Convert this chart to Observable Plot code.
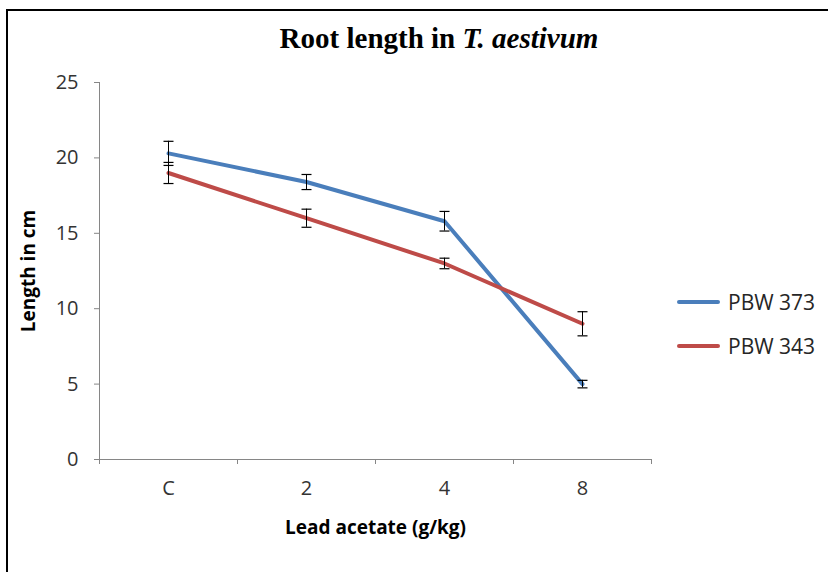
<!DOCTYPE html>
<html>
<head>
<meta charset="utf-8">
<script src="https://cdn.jsdelivr.net/npm/d3@7"></script>
<script src="https://cdn.jsdelivr.net/npm/@observablehq/plot@0.6"></script>
<style>
  html, body { margin: 0; padding: 0; background: #fff; overflow: hidden; }
  #wrap { position: relative; width: 828px; height: 572px; overflow: hidden; }
  #frame { position: absolute; left: 6px; top: 9px; width: 830px; height: 600px; border: 2px solid #000; box-sizing: border-box; }
  #chart { position: absolute; left: 0; top: 0; }
  #title { position: absolute; left: 0; top: 24px; width: 878px; text-align: center; line-height: 1;
           font-family: "Liberation Serif", "Times New Roman", serif; font-weight: bold; font-size: 29px; color: #000; }
  .leg { position: absolute; left: 677px; font-family: "Open Sans", sans-serif; font-size: 21px; color: #262626; display: flex; align-items: center; }
  .leg .sw { width: 43px; height: 4px; border-radius: 2px; margin-right: 8px; }
</style>
</head>
<body>
<div id="wrap">
  <div id="frame"></div>
  <div id="chart"></div>
  <div id="title">Root length in <i>T. aestivum</i></div>
  <div id="legend"></div>
</div>
<script>
const categories = ["C", "2", "4", "8"];
const seriesNames = ["PBW 373", "PBW 343"];
const pbw373 = [20.3, 18.4, 15.8, 5.0];
const pbw373Err = [0.8, 0.5, 0.65, 0.25];
const pbw343 = [19.0, 16.0, 13.0, 9.0];
const pbw343Err = [0.7, 0.6, 0.35, 0.8];
const yTicks = [0, 5, 10, 15, 20, 25];
const colors = ["#4A7EBB", "#BE4B48"];

const rows = [];
[[pbw373, pbw373Err], [pbw343, pbw343Err]].forEach(([vals, errs], s) => {
  vals.forEach((v, i) => rows.push({series: seriesNames[s], pos: i + 0.5, cat: categories[i], v, lo: v - errs[i], hi: v + errs[i]}));
});

const hline = {draw(ctx, size) { const r = Math.sqrt(size / Math.PI); ctx.moveTo(-r, 0); ctx.lineTo(r, 0); }};

const chart = Plot.plot({
  width: 828,
  height: 572,
  marginLeft: 99,
  marginRight: 177,
  marginTop: 82,
  marginBottom: 113,
  style: {fontFamily: "Open Sans, sans-serif", fontSize: "20px", color: "#333", background: "transparent"},
  x: {domain: [0, categories.length]},
  y: {domain: [0, 25]},
  color: {domain: seriesNames, range: colors},
  marks: [
    Plot.axisY({ticks: yTicks, tickSize: 5, tickPadding: 16, stroke: "#868686", fill: "#333", fontSize: 20, label: "Length in cm", labelAnchor: "center", labelArrow: "none", labelOffset: 78}),
    Plot.ruleX([0], {stroke: "#868686", y1: 0, y2: 25}),
    Plot.axisX({ticks: d3.range(categories.length + 1), tickSize: 5, tickFormat: () => "", stroke: "#868686", label: null}),
    Plot.axisX({ticks: categories.map((c, i) => i + 0.5), tickSize: 0, tickPadding: 21, fill: "#333", fontSize: 20, tickFormat: (d) => categories[Math.floor(d)],
      label: "Lead acetate (g/kg)", labelAnchor: "center", labelArrow: "none", labelOffset: 74}),
    Plot.ruleY([0], {stroke: "#868686"}),
    Plot.line(rows, {x: "pos", y: "v", z: "series", stroke: "series", strokeWidth: 4, strokeLinecap: "round", strokeLinejoin: "round"}),
    Plot.ruleX(rows, {x: "pos", y1: "lo", y2: "hi", stroke: "#000", strokeWidth: 1}),
    Plot.dot(rows, {x: "pos", y: "lo", symbol: hline, r: 5, stroke: "#000", strokeWidth: 1.2}),
    Plot.dot(rows, {x: "pos", y: "hi", symbol: hline, r: 5, stroke: "#000", strokeWidth: 1.2})
  ]
});
d3.select(chart).selectAll("[aria-label='y-axis label'] text, [aria-label='x-axis label'] text")
  .attr("font-weight", "bold").attr("fill", "#000").style("font-size", "19px");
document.getElementById("chart").appendChild(chart);

const legend = document.getElementById("legend");
seriesNames.forEach((name, i) => {
  const d = document.createElement("div");
  d.className = "leg";
  d.style.top = (288 + i * 44) + "px";
  d.innerHTML = `<span class="sw" style="background:${colors[i]}"></span><span>${name}</span>`;
  legend.appendChild(d);
});
</script>
</body>
</html>
